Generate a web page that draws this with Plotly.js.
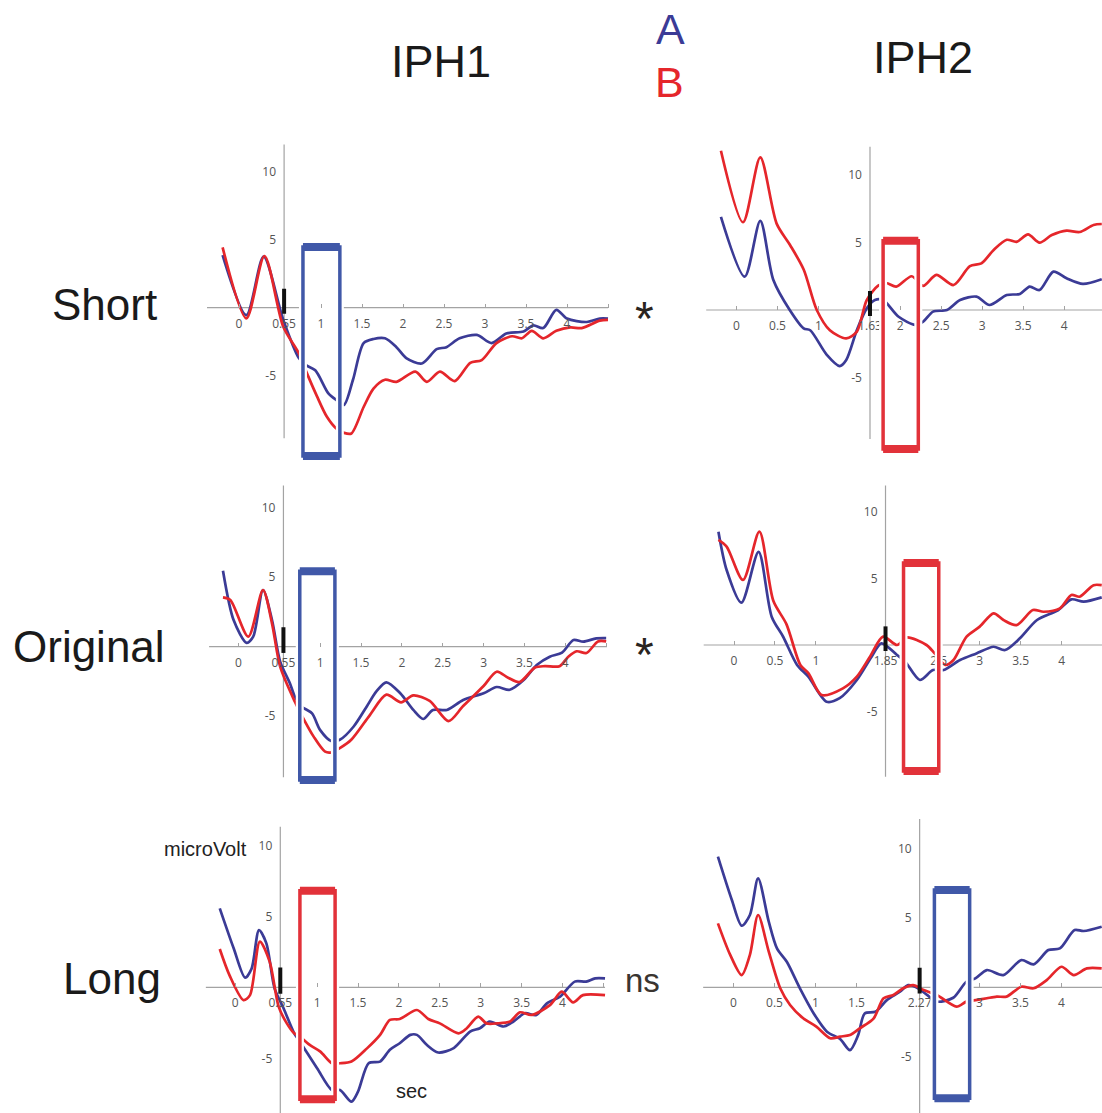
<!DOCTYPE html>
<html>
<head>
<meta charset="utf-8">
<script src="https://cdn.plot.ly/plotly-3.0.1.min.js"></script>
<style>html,body{margin:0;padding:0;background:#fff;}#chart{width:1102px;height:1113px;}</style>
</head>
<body>
<div id="chart"></div>
<script>
// ---------------- DATA ----------------
const columnTitles = ['IPH1', 'IPH2'];
const rowTitles = ['Short', 'Original', 'Long'];
const seriesNames = ['A', 'B'];
const rowStats = ['*', '*', 'ns'];
const yTickVals = [-5, 5, 10];
const yTickText = ['-5', '5', '10'];
const eventTimes = [0.55, 1.63, 0.55, 1.85, 0.55, 2.27];   // panel order: S-IPH1, S-IPH2, O-IPH1, O-IPH2, L-IPH1, L-IPH2
const windowStart = [0.78, 1.79, 0.75, 2.07, 0.79, 2.45];
const windowEnd   = [1.23, 2.22, 1.18, 2.50, 1.22, 2.88];
const windowTop   = [4.46, 5.13, 5.42, 6.17, 6.8, 7.0];
const windowBottom= [-10.9, -10.3, -9.59, -9.47, -7.89, -7.99];
const windowSeries= ['A', 'B', 'A', 'B', 'B', 'A'];

const tickValsIPH1 = [0, 0.55, 1, 1.5, 2, 2.5, 3, 3.5, 4, 4.5];
const tickTextIPH1 = ['0', '0.55', '1', '1.5', '2', '2.5', '3', '3.5', '4', ''];
const tickValsShort2 = [0, 0.5, 1, 1.63, 2, 2.5, 3, 3.5, 4];
const tickTextShort2 = ['0', '0.5', '1', '1.63', '2', '2.5', '3', '3.5', '4'];
const tickValsOrig2 = [0, 0.5, 1, 1.85, 2.5, 3, 3.5, 4];
const tickTextOrig2 = ['0', '0.5', '1', '1.85', '2.5', '3', '3.5', '4'];
const tickValsLong2 = [0, 0.5, 1, 1.5, 2.27, 3, 3.5, 4];
const tickTextLong2 = ['0', '0.5', '1', '1.5', '2.27', '3', '3.5', '4'];

// Short, IPH1
const shortIPH1_A_x = [-0.2, 0.09, 0.30, 0.54, 0.73, 0.81, 0.93, 1.09, 1.19, 1.28, 1.39, 1.52, 1.64, 1.78, 1.92, 2.04, 2.23, 2.41, 2.53, 2.69, 2.90, 3.08, 3.26, 3.47, 3.59, 3.71, 3.87, 4.0, 4.24, 4.4, 4.5];
const shortIPH1_A_y = [3.87, -0.54, 3.75, -0.9, -3.7, -4.2, -4.6, -6.3, -6.8, -7.15, -5.3, -2.6, -2.3, -2.25, -2.9, -3.7, -4.1, -3.05, -2.9, -2.25, -2.0, -2.6, -1.9, -1.75, -1.3, -1.5, -0.16, -0.8, -1.05, -0.8, -0.8];
const shortIPH1_B_x = [-0.2, 0.09, 0.31, 0.54, 0.73, 0.82, 0.95, 1.07, 1.19, 1.28, 1.37, 1.52, 1.64, 1.78, 1.92, 2.15, 2.29, 2.45, 2.63, 2.82, 2.96, 3.14, 3.33, 3.45, 3.57, 3.71, 3.87, 4.04, 4.18, 4.4, 4.5];
const shortIPH1_B_y = [4.44, -0.78, 3.8, -1.4, -3.35, -4.7, -6.5, -8.0, -8.9, -9.2, -9.25, -7.3, -5.95, -5.3, -5.45, -4.7, -5.45, -4.7, -5.4, -4.05, -3.85, -2.6, -2.1, -2.25, -1.7, -2.25, -1.7, -1.45, -1.5, -0.95, -0.9];
// Short, IPH2
const shortIPH2_A_x = [-0.19, 0.10, 0.29, 0.45, 0.65, 0.82, 0.9, 1.1, 1.26, 1.34, 1.47, 1.59, 1.69, 1.79, 1.98, 2.18, 2.28, 2.4, 2.57, 2.73, 2.93, 3.09, 3.3, 3.46, 3.58, 3.70, 3.87, 4.03, 4.23, 4.46];
const shortIPH2_A_y = [6.9, 2.47, 6.6, 2.22, 0, -1.36, -1.5, -3.3, -4.15, -3.7, -1.48, 0.12, 0.74, 0.74, -0.5, -1.1, -0.86, -0.12, 0, 0.74, 0.99, 0.37, 1.11, 1.19, 1.73, 1.48, 2.84, 2.35, 1.93, 2.28];
const shortIPH2_B_x = [-0.19, 0.08, 0.29, 0.49, 0.65, 0.82, 0.98, 1.14, 1.34, 1.47, 1.59, 1.73, 1.83, 1.95, 2.14, 2.28, 2.44, 2.65, 2.85, 2.99, 3.14, 3.3, 3.42, 3.56, 3.70, 3.85, 4.03, 4.19, 4.36, 4.46];
const shortIPH2_B_y = [11.8, 6.5, 11.3, 6.4, 4.85, 3.0, 0.0, -1.5, -2.1, -1.6, 0.74, 1.8, 2.0, 1.73, 2.5, 1.78, 2.6, 1.85, 3.25, 3.45, 4.45, 5.2, 5.05, 5.6, 4.99, 5.55, 5.88, 5.78, 6.3, 6.37];
// Original, IPH1
const origIPH1_A_x = [-0.19, -0.06, 0.10, 0.18, 0.3, 0.41, 0.51, 0.63, 0.69, 0.77, 0.9, 1.0, 1.14, 1.24, 1.41, 1.57, 1.69, 1.81, 1.98, 2.14, 2.26, 2.38, 2.55, 2.75, 3.0, 3.16, 3.32, 3.49, 3.65, 3.81, 3.96, 4.1, 4.22, 4.38, 4.5];
const origIPH1_A_y = [5.47, 1.92, 0.28, 0.72, 4.08, 1.92, -1.07, -2.64, -3.6, -4.3, -4.8, -6.0, -6.8, -6.7, -5.74, -4.3, -3.2, -2.56, -3.35, -4.55, -5.2, -4.55, -4.55, -3.83, -3.35, -2.9, -3.1, -2.4, -1.32, -0.72, -0.43, 0.48, 0.36, 0.6, 0.62];
const origIPH1_B_x = [-0.19, -0.1, 0.12, 0.3, 0.41, 0.51, 0.69, 0.77, 0.92, 1.06, 1.14, 1.24, 1.38, 1.61, 1.81, 1.99, 2.14, 2.34, 2.57, 2.75, 3.0, 3.16, 3.3, 3.44, 3.63, 3.75, 3.93, 4.04, 4.14, 4.26, 4.4, 4.5];
const origIPH1_B_y = [3.55, 3.36, 0.72, 4.08, 1.68, -1.44, -3.96, -4.9, -6.47, -7.55, -7.6, -7.3, -6.7, -4.9, -3.45, -4.0, -3.5, -3.9, -5.35, -4.27, -2.83, -1.8, -2.23, -2.54, -1.5, -1.4, -1.4, -0.7, -0.33, -0.45, 0.38, 0.38];
// Original, IPH2
const origIPH2_A_x = [-0.19, -0.09, 0.09, 0.3, 0.46, 0.6, 0.77, 0.91, 1.13, 1.29, 1.5, 1.68, 1.8, 1.99, 2.09, 2.27, 2.43, 2.56, 2.76, 2.96, 3.17, 3.31, 3.49, 3.7, 3.96, 4.12, 4.27, 4.49];
const origIPH2_A_y = [8.52, 5.64, 3.18, 7.0, 2.13, 0.62, -1.5, -2.4, -4.26, -4.0, -2.63, -0.88, 0.12, -0.75, -1.25, -2.63, -1.88, -1.88, -1.13, -0.63, -0.13, -0.38, 0.5, 1.88, 2.63, 3.43, 3.26, 3.58];
const origIPH2_B_x = [-0.19, -0.09, 0.11, 0.31, 0.48, 0.64, 0.81, 0.91, 1.07, 1.33, 1.5, 1.66, 1.82, 1.99, 2.11, 2.35, 2.45, 2.58, 2.68, 2.84, 3.0, 3.17, 3.29, 3.45, 3.65, 3.78, 3.98, 4.12, 4.22, 4.39, 4.49];
const origIPH2_B_y = [7.9, 7.4, 4.89, 8.52, 3.32, 1.57, -1.5, -2.13, -3.76, -3.26, -2.38, -0.88, 0.63, 0.0, 0.57, 0.0, -0.63, -1.5, -1.13, 0.63, 1.38, 2.38, 1.88, 1.5, 2.63, 2.5, 2.76, 3.76, 3.63, 4.5, 4.5];
// Long, IPH1
const longIPH1_A_x = [-0.19, -0.02, 0.12, 0.2, 0.29, 0.38, 0.48, 0.59, 0.72, 0.79, 1.0, 1.18, 1.28, 1.42, 1.5, 1.63, 1.77, 1.89, 2.01, 2.14, 2.22, 2.34, 2.48, 2.67, 2.87, 2.99, 3.11, 3.28, 3.4, 3.54, 3.68, 3.81, 3.97, 4.15, 4.29, 4.4, 4.52];
const longIPH1_A_y = [5.56, 2.75, 0.68, 1.33, 4.03, 3.09, -0.07, -1.48, -3.24, -3.83, -5.7, -7.23, -7.23, -8.05, -7.35, -5.35, -5.23, -4.4, -3.94, -3.35, -3.35, -4.05, -4.59, -4.28, -3.12, -2.88, -2.41, -2.76, -2.41, -1.83, -1.95, -1.13, -0.66, 0.4, 0.4, 0.63, 0.63];
const longIPH1_B_x = [-0.19, -0.07, 0.10, 0.18, 0.30, 0.42, 0.53, 0.63, 0.72, 0.79, 0.91, 1.04, 1.18, 1.28, 1.42, 1.61, 1.77, 1.89, 2.01, 2.22, 2.36, 2.5, 2.73, 2.83, 2.97, 3.07, 3.2, 3.36, 3.48, 3.62, 3.85, 3.99, 4.13, 4.25, 4.52];
const longIPH1_B_y = [2.7, 0.84, -0.9, -0.55, 3.22, 1.81, -1.36, -2.54, -3.24, -3.47, -4.06, -4.53, -5.35, -5.35, -5.23, -4.3, -3.35, -2.3, -2.23, -1.6, -2.23, -2.54, -3.24, -2.88, -2.06, -2.54, -2.54, -2.41, -1.76, -1.95, -1.24, -0.31, -1.06, -0.55, -0.55];
// Long, IPH2
const longIPH2_A_x = [-0.19, -0.02, 0.1, 0.2, 0.30, 0.43, 0.53, 0.65, 0.81, 0.99, 1.14, 1.3, 1.42, 1.52, 1.6, 1.73, 1.87, 2.03, 2.13, 2.25, 2.36, 2.48, 2.68, 2.84, 2.95, 3.09, 3.29, 3.51, 3.66, 3.84, 3.98, 4.16, 4.27, 4.49];
const longIPH2_A_y = [9.4, 6.28, 4.43, 5.2, 7.84, 4.72, 2.8, 1.84, -0.07, -1.99, -3.19, -3.72, -4.52, -3.44, -1.88, -1.76, -0.92, -0.32, 0.16, -0.07, -0.55, -1.03, -0.75, 0.40, 0.64, 1.24, 0.88, 1.96, 1.65, 2.68, 2.8, 4.12, 4.05, 4.36];
const longIPH2_B_x = [-0.19, -0.04, 0.1, 0.2, 0.3, 0.43, 0.57, 0.69, 0.85, 1.01, 1.18, 1.3, 1.42, 1.54, 1.71, 1.83, 1.95, 2.07, 2.19, 2.32, 2.48, 2.72, 2.84, 2.97, 3.09, 3.21, 3.33, 3.51, 3.66, 3.82, 4.0, 4.15, 4.31, 4.49];
const longIPH2_B_y = [4.6, 2.33, 0.88, 2.33, 5.2, 2.57, -0.07, -1.27, -2.23, -2.83, -3.67, -3.55, -3.43, -2.95, -2.23, -0.79, -0.55, -0.07, 0.16, -0.2, -0.55, -1.39, -1.03, -0.91, -0.79, -0.67, -0.67, 0.04, -0.07, 0.52, 1.48, 0.88, 1.36, 1.36];

// ---------------- LAYOUT CONFIG ----------------
const W = 1102, H = 1113;
const COL_A = '#3b3b96', COL_B = '#e5262b';
const BOX_A = '#4058a8', BOX_B = '#e2323a';
const AXIS_COL = '#a3a3a3';
const TICK_FONT = {family: 'Open Sans, Liberation Sans, sans-serif', size: 12, color: '#555'};
const BIG_FONT = 'Liberation Sans, Arial, sans-serif';

const series = [
  {A: [shortIPH1_A_x, shortIPH1_A_y], B: [shortIPH1_B_x, shortIPH1_B_y]},
  {A: [shortIPH2_A_x, shortIPH2_A_y], B: [shortIPH2_B_x, shortIPH2_B_y]},
  {A: [origIPH1_A_x, origIPH1_A_y], B: [origIPH1_B_x, origIPH1_B_y]},
  {A: [origIPH2_A_x, origIPH2_A_y], B: [origIPH2_B_x, origIPH2_B_y]},
  {A: [longIPH1_A_x, longIPH1_A_y], B: [longIPH1_B_x, longIPH1_B_y]},
  {A: [longIPH2_A_x, longIPH2_A_y], B: [longIPH2_B_x, longIPH2_B_y]}
];
const ticks = [
  [tickValsIPH1, tickTextIPH1], [tickValsShort2, tickTextShort2],
  [tickValsIPH1, tickTextIPH1], [tickValsOrig2, tickTextOrig2],
  [tickValsIPH1, tickTextIPH1], [tickValsLong2, tickTextLong2]
];
// pixel geometry of each panel: origin (x0px,y0px) and px per unit
const geom = [
  {x0: 239,   sx: 82,   y0: 307.7, sy: 13.6, xl: -0.39, xe: 4.5,  yt: 12.0, yb: -9.6},
  {x0: 736.5, sx: 81.9, y0: 310,   sy: 13.5, xl: -0.37, xe: null, yt: 12.1, yb: -9.55},
  {x0: 238.5, sx: 81.7, y0: 646.7, sy: 13.9, xl: -0.36, xe: 4.51, yt: 11.6, yb: -9.4},
  {x0: 734,   sx: 81.9, y0: 645,   sy: 13.3, xl: -0.37, xe: null, yt: 12.0, yb: -9.9},
  {x0: 235.3, sx: 81.8, y0: 987.3, sy: 14.2, xl: -0.36, xe: 4.52, yt: 11.3, yb: -12},
  {x0: 733.5, sx: 82,   y0: 987.3, sy: 13.9, xl: -0.37, xe: null, yt: 12.1, yb: -12}
];

const data = [];
const layout = {
  width: W, height: H, margin: {l: 0, r: 0, t: 0, b: 0},
  paper_bgcolor: '#fff', plot_bgcolor: 'rgba(0,0,0,0)',
  showlegend: false, shapes: [], annotations: []
};

geom.forEach((g, i) => {
  const n = i + 1;
  const xa = 'xaxis' + (n === 1 ? '' : n), ya = 'yaxis' + (n === 1 ? '' : n);
  const xr = 'x' + (n === 1 ? '' : n), yr = 'y' + (n === 1 ? '' : n);
  const xlo = -0.45;
  const xhi = (g.xe === null) ? (W - g.x0) / g.sx - 1e-4 : 4.6;
  const yhi = 12.6;
  const ylo = Math.max(-11.8, -(H - g.y0) / g.sy + 1e-4);
  const pyPaper = v => 1 - (g.y0 - g.sy * v) / H;
  const ev = eventTimes[i];
  layout[xa] = {
    domain: [(g.x0 + g.sx * xlo) / W, (g.x0 + g.sx * xhi) / W],
    range: [xlo, xhi], anchor: 'free', position: 1 - g.y0 / H,
    showline: false, showgrid: false, zeroline: false,
    ticks: 'inside', ticklen: 4, tickwidth: 1, tickcolor: AXIS_COL,
    tickvals: ticks[i][0], ticktext: ticks[i][1], tickangle: 0,
    tickfont: TICK_FONT, ticklabelstandoff: 7, fixedrange: true
  };
  layout[ya] = {
    domain: [pyPaper(ylo), pyPaper(yhi)],
    range: [ylo, yhi], anchor: 'free', position: (g.x0 + g.sx * ev) / W,
    showline: false, showgrid: false, zeroline: false, ticks: '',
    tickvals: yTickVals, ticktext: yTickText, tickfont: TICK_FONT,
    ticklabelstandoff: 8, fixedrange: true
  };
  const xEnd = (g.xe === null) ? xhi : g.xe;
  // axis lines
  layout.shapes.push({type: 'line', xref: xr, yref: yr, x0: g.xl, x1: xEnd, y0: 0, y1: 0,
    line: {color: AXIS_COL, width: 1.2}, layer: 'below'});
  layout.shapes.push({type: 'line', xref: xr, yref: yr, x0: ev, x1: ev, y0: g.yb, y1: g.yt,
    line: {color: AXIS_COL, width: 1.2}, layer: 'below'});
  // analysis window
  const bx0 = windowStart[i], bx1 = windowEnd[i], bt = windowTop[i], bb = windowBottom[i];
  const bc = windowSeries[i] === 'A' ? BOX_A : BOX_B;
  layout.shapes.push({type: 'rect', xref: xr, yref: yr, x0: bx0, x1: bx1, y0: bb, y1: bt,
    fillcolor: '#fff', line: {width: 0}, layer: 'below'});
  layout.shapes.push({type: 'rect', xref: xr, yref: yr, x0: bx0, x1: bx1, y0: bb, y1: bt,
    line: {color: '#fff', width: 8}, layer: 'above'});
  layout.shapes.push({type: 'rect', xref: xr, yref: yr, x0: bx0, x1: bx1, y0: bb, y1: bt,
    line: {color: bc, width: 3.5}, layer: 'above'});
  [bt, bb].forEach(yy => layout.shapes.push({type: 'line', xref: xr, yref: yr, x0: bx0, x1: bx1, y0: yy, y1: yy,
    line: {color: bc, width: 8}, layer: 'above'}));
  // event marker
  layout.shapes.push({type: 'line', xref: xr, yref: yr, x0: ev, x1: ev, y0: -0.45, y1: 1.4,
    line: {color: '#111', width: 4}, layer: 'above'});
  // curves
  ['A', 'B'].forEach(s => {
    data.push({
      type: 'scatter', mode: 'lines', name: s, x: series[i][s][0], y: series[i][s][1],
      xaxis: xr, yaxis: yr, hoverinfo: 'skip',
      line: {color: s === 'A' ? COL_A : COL_B, width: 2.7, shape: 'spline', smoothing: 0.8}
    });
  });
});

function ann(text, px, py, size, color, extra) {
  layout.annotations.push(Object.assign({
    text: text, xref: 'paper', yref: 'paper', x: px / W, y: 1 - py / H,
    xanchor: 'center', yanchor: 'middle', showarrow: false,
    font: {family: BIG_FONT, size: size, color: color}
  }, extra || {}));
}
ann(columnTitles[0], 441, 62, 45, '#1a1a1a');
ann(columnTitles[1], 923, 57, 45, '#1a1a1a');
ann(seriesNames[0], 670, 29, 43, COL_A);
ann(seriesNames[1], 669, 82, 43, COL_B);
ann(rowTitles[0], 104, 304, 44, '#1a1a1a');
ann(rowTitles[1], 89, 646, 44, '#1a1a1a');
ann(rowTitles[2], 112, 978, 44, '#1a1a1a');
ann(rowStats[0], 644, 318, 48, '#2a2420');
ann(rowStats[1], 644, 654, 48, '#2a2420');
ann(rowStats[2], 642, 980, 33, '#3a3530');
ann('microVolt', 205, 849, 20, '#222');
ann('sec', 411, 1091, 20, '#222');

Plotly.newPlot('chart', data, layout, {staticPlot: true, displayModeBar: false});
</script>
</body>
</html>
